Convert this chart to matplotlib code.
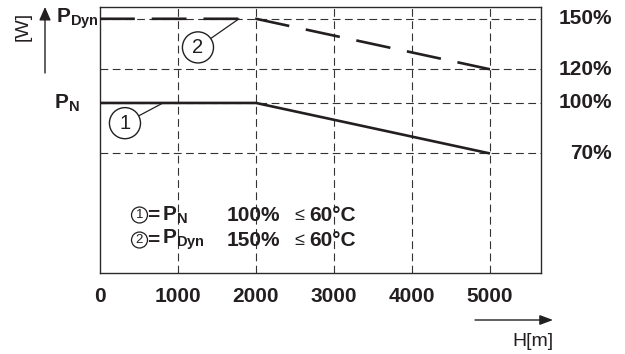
import matplotlib
matplotlib.use("Agg")
import matplotlib.pyplot as plt
from matplotlib.transforms import blended_transform_factory

plt.rcParams['font.family'] = ['Liberation Sans', 'DejaVu Sans']
plt.rcParams['mathtext.fontset'] = 'custom'
plt.rcParams['mathtext.rm'] = 'Liberation Sans'
plt.rcParams['mathtext.bf'] = 'Liberation Sans:bold'

### data

heights = [0, 2000, 5000]
p_nominal = [100, 100, 70]
p_dynamic = [150, 150, 120]
x_ticks = [0, 1000, 2000, 3000, 4000, 5000]
pct_levels = [70, 100, 120, 150]
pct_labels = ['70%', '100%', '120%', '150%']

ink = '#231f20'
grid_col = '#333333'

fig = plt.figure(figsize=(6.25, 3.54), dpi=100)
ax = fig.add_axes([100 / 625, 1 - 273 / 354, 441 / 625, 266 / 354])
ax.set_xlim(0, 5654)
ax.set_ylim(-1, 157)

# dashed grid
for v in pct_levels:
    ax.axhline(v, color=grid_col, lw=0.8, dashes=(7, 4), zorder=1)
for x in x_ticks[1:]:
    ax.axvline(x, color=grid_col, lw=0.8, dashes=(7, 4), zorder=1)

# curves
ax.plot(heights, p_nominal, color=ink, lw=1.9, solid_capstyle='butt', zorder=3)
ax.plot(heights, p_dynamic, color=ink, lw=1.9, dashes=(13.2, 6.4),
        dash_capstyle='butt', zorder=3)

for sp in ax.spines.values():
    sp.set_color('#2a2a2a')
    sp.set_linewidth(1.0)

ax.set_xticks(x_ticks)
ax.set_xticklabels([str(x) for x in x_ticks], fontsize=15, fontweight='bold', color=ink)
ax.tick_params(axis='x', length=0, pad=10)
ax.set_yticks([])

# right hand percent labels
tr = blended_transform_factory(fig.transFigure, ax.transData)
for v, lab in zip(pct_levels, pct_labels):
    ax.text(612 / 625, v, lab, transform=tr, ha='right', va='center',
            fontsize=15, fontweight='bold', color=ink)

# left labels
ax.text(56 / 625, 150, r'$\mathbf{P_{Dyn}}$', transform=tr, ha='left', va='center',
        fontsize=15, color=ink)
ax.text(54 / 625, 100, r'$\mathbf{P_{N}}$', transform=tr, ha='left', va='center',
        fontsize=15, color=ink)

# axis arrows
fig.add_artist(matplotlib.patches.FancyArrowPatch(
    (45 / 625, 1 - 73 / 354), (45 / 625, 1 - 7 / 354), transform=fig.transFigure,
    arrowstyle='-|>,head_length=8,head_width=3.5', lw=1, color=ink, shrinkA=0, shrinkB=0))
fig.text(23 / 625, 1 - 26 / 354, '[W]', rotation=90, ha='center', va='center',
         fontsize=14, color=ink)
fig.add_artist(matplotlib.patches.FancyArrowPatch(
    (475 / 625, 1 - 320 / 354), (553 / 625, 1 - 320 / 354), transform=fig.transFigure,
    arrowstyle='-|>,head_length=8,head_width=3', lw=1, color=ink, shrinkA=0, shrinkB=0))
fig.text(553 / 625, 1 - 342 / 354, 'H[m]', ha='right', va='center', fontsize=14, color=ink)

# circled callouts
circ = dict(boxstyle='circle,pad=0.3', fc='white', ec=ink, lw=1)
ax.annotate('1', xy=(808, 100), xytext=(320, 88), fontsize=14.5, color=ink,
            ha='center', va='center', bbox=circ, zorder=4,
            arrowprops=dict(arrowstyle='-', color=ink, lw=0.9, shrinkA=0, shrinkB=0))
ax.annotate('2', xy=(1782, 150), xytext=(1256, 133), fontsize=14.5, color=ink,
            ha='center', va='center', bbox=circ, zorder=4,
            arrowprops=dict(arrowstyle='-', color=ink, lw=0.9, shrinkA=0, shrinkB=0))

# legend block
small_circ = dict(boxstyle='circle,pad=0.15', fc='white', ec=ink, lw=0.9)
rows = [(0.218, '1', '$\\mathbf{P_{N}}$', '100%'),
        (0.124, '2', '$\\mathbf{P_{Dyn}}$', '150%')]


def col(px):
    return (px - 100) / 441


for yy, num, name, pct in rows:
    ax.text(col(139.5), yy, num, transform=ax.transAxes, ha='center',
            va='center', fontsize=9.5, color=ink, bbox=small_circ)
    ax.text(col(147), yy, '=', transform=ax.transAxes, ha='left', va='center',
            fontsize=15, fontweight='bold', color=ink)
    ax.text(col(162), yy, name, transform=ax.transAxes, ha='left', va='center',
            fontsize=15, color=ink)
    ax.text(col(227), yy, pct, transform=ax.transAxes, ha='left', va='center',
            fontsize=15, fontweight='bold', color=ink)
    ax.text(col(294), yy, '\u2264', transform=ax.transAxes, ha='left',
            va='center', fontsize=13, color=ink)
    ax.text(col(309), yy, '60\u00b0C', transform=ax.transAxes, ha='left',
            va='center', fontsize=15, fontweight='bold', color=ink)

fig.savefig('out.png', dpi=100)
